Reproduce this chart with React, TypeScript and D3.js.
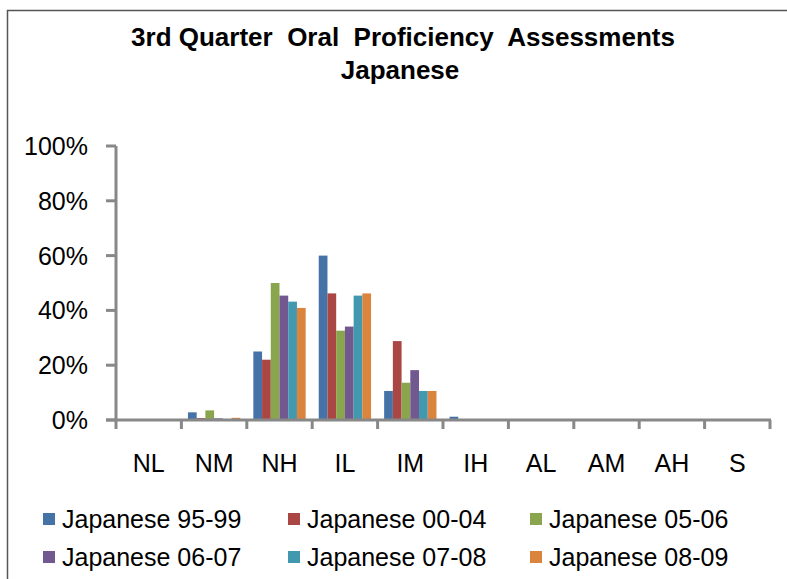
import React from "react";
import * as d3 from "d3";

const categories = ["NL", "NM", "NH", "IL", "IM", "IH", "AL", "AM", "AH", "S"];
const seriesNames = [
  "Japanese 95-99",
  "Japanese 00-04",
  "Japanese 05-06",
  "Japanese 06-07",
  "Japanese 07-08",
  "Japanese 08-09",
];
const colors = ["#4572A7", "#AA4643", "#89A54E", "#71588F", "#4198AF", "#DB843D"];

// percent per category, one array per series
const s9599 = [0, 2.8, 25, 60, 10.6, 1.2, 0, 0, 0, 0];
const s0004 = [0, 0.7, 22, 46.2, 28.8, 0, 0, 0, 0, 0];
const s0506 = [0, 3.5, 50, 32.6, 13.6, 0, 0, 0, 0, 0];
const s0607 = [0, 0.6, 45.4, 34.1, 18.2, 0, 0, 0, 0, 0];
const s0708 = [0, 0, 43.2, 45.4, 10.6, 0, 0, 0, 0, 0];
const s0809 = [0, 0.8, 40.9, 46.2, 10.6, 0, 0, 0, 0, 0];
const seriesValues = [s9599, s0004, s0506, s0607, s0708, s0809];
const yTicks = [0, 20, 40, 60, 80, 100];

const W = 787;
const H = 579;
const font = "'Liberation Sans', Arial, Helvetica, sans-serif";
const axisColor = "#888888";
const x0 = 116;
const x1 = 770;

export default function App() {
  const x = d3.scaleBand<string>().domain(categories).range([x0, x1]).paddingInner(0.2).paddingOuter(0.1);
  const step = (x1 - x0) / categories.length;
  const inner = d3.scaleBand<number>().domain(d3.range(seriesNames.length)).range([0, x.bandwidth()]);
  const y = d3.scaleLinear().domain([0, 100]).range([420, 146]);

  const legendCols = [43, 288, 530];
  const legendRows = [519, 557];

  return (
    <svg width={W} height={H} style={{ position: "absolute", left: 0, top: 0 }} fontFamily={font}>
      <rect x={0} y={0} width={W} height={H} fill="#fff" />
      {/* chart frame */}
      <path d={`M7.5,${H} V10.5 H${W}`} fill="none" stroke="#555" strokeWidth={1.5} />

      <text x={403} y={46} textAnchor="middle" fontSize={26} fontWeight="bold" style={{ whiteSpace: "pre" }}>
        {"3rd Quarter  Oral  Proficiency  Assessments"}
      </text>
      <text x={400} y={79} textAnchor="middle" fontSize={26} fontWeight="bold">
        Japanese
      </text>

      {/* bars */}
      {seriesValues.map((vals, si) =>
        vals.map((v, ci) =>
          v > 0 ? (
            <rect
              key={`${si}-${ci}`}
              x={(x(categories[ci]) ?? 0) + (inner(si) ?? 0)}
              y={y(v)}
              width={inner.bandwidth()}
              height={y(0) - y(v)}
              fill={colors[si]}
            />
          ) : null
        )
      )}

      {/* y axis */}
      <line x1={x0} x2={x0} y1={y(100)} y2={y(0)} stroke={axisColor} strokeWidth={3} />
      {yTicks.map((t) => (
        <g key={t}>
          <line x1={x0 - 10} x2={x0} y1={y(t)} y2={y(t)} stroke={axisColor} strokeWidth={3} />
          <text x={88} y={y(t) + 9} textAnchor="end" fontSize={25} fill="#000">
            {t}%
          </text>
        </g>
      ))}

      {/* x axis */}
      <line x1={x0 - 10} x2={x1 + 1} y1={y(0)} y2={y(0)} stroke={axisColor} strokeWidth={3} />
      {d3.range(categories.length + 1).map((i) => (
        <line key={i} x1={x0 + i * step} x2={x0 + i * step} y1={y(0)} y2={y(0) + 9} stroke={axisColor} strokeWidth={3} />
      ))}
      {categories.map((c) => (
        <text key={c} x={(x(c) ?? 0) + x.bandwidth() / 2} y={472} textAnchor="middle" fontSize={25}>
          {c}
        </text>
      ))}

      {/* legend */}
      {seriesNames.map((name, i) => {
        const lx = legendCols[i % 3];
        const ly = legendRows[Math.floor(i / 3)];
        return (
          <g key={name}>
            <rect x={lx} y={ly - 6} width={12} height={12} fill={colors[i]} />
            <text x={lx + 19} y={ly + 9} fontSize={25}>
              {name}
            </text>
          </g>
        );
      })}
    </svg>
  );
}
